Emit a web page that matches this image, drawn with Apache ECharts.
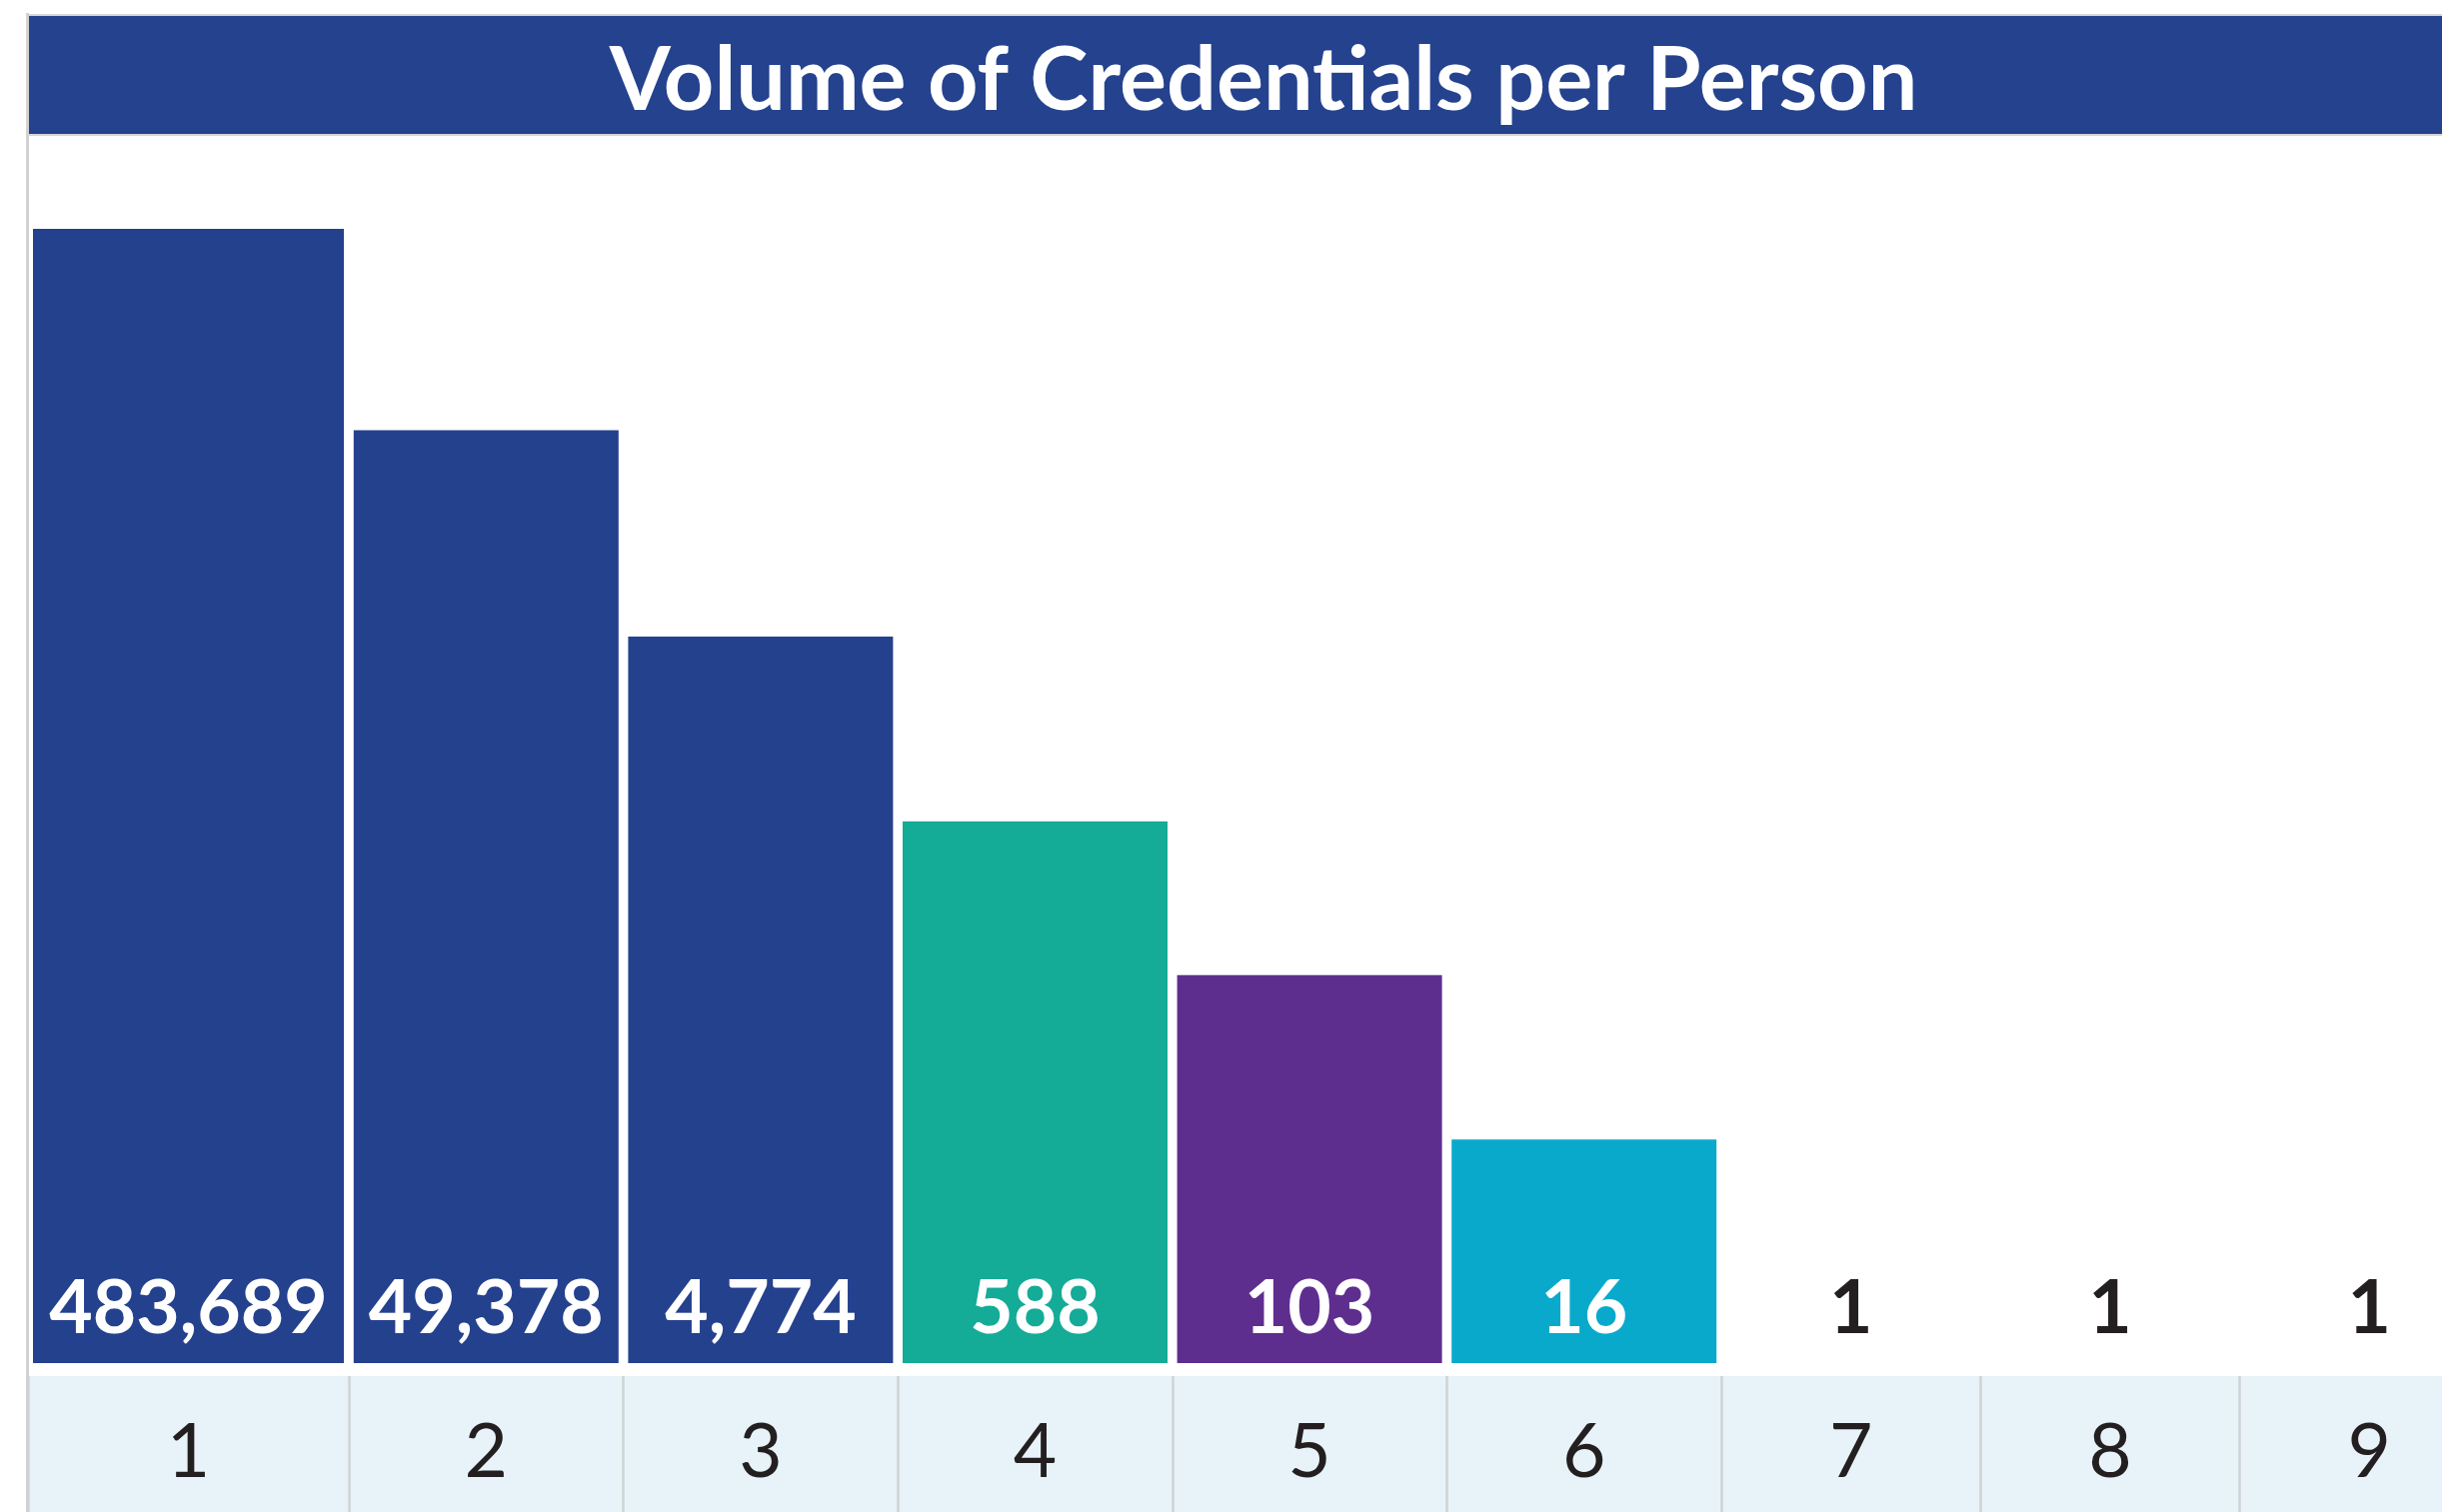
<!DOCTYPE html>
<html><head><meta charset="utf-8">
<script src="https://cdn.jsdelivr.net/npm/echarts@6/dist/echarts.min.js"></script>
<style>html,body{margin:0;padding:0;background:#fff}#c{width:2443px;height:1513px}</style>
</head><body><div id="c"></div>
<script>
const chartTitle = 'Volume of Credentials per Person';
const categories = ['1', '2', '3', '4', '5', '6', '7', '8', '9'];
const values = [483689, 49378, 4774, 588, 103, 16, 1, 1, 1];

// styles
const barColors = ['#24418E', '#24418E', '#24418E', '#14AB97', '#5E2E8F', '#09A9CC', '#24418E', '#24418E', '#24418E'];
const labelColors = ['#FFFFFF', '#FFFFFF', '#FFFFFF', '#FFFFFF', '#FFFFFF', '#FFFFFF', '#231F20', '#231F20', '#231F20'];

// table column groups (layout only)
const groups = [
  { from: 0, to: 1, left: 28, width: 321, barWidth: 311 },
  { from: 1, to: 6, left: 349, width: 1373, barWidth: 265 },
  { from: 6, to: 9, left: 1722, width: 778, barWidth: 259 }
];

const FONT = 'Lato, "Open Sans", sans-serif';
const yMin = 1.27;
const yMax = Math.max(...values);

const grid = [], xAxis = [], yAxis = [], series = [];
groups.forEach((g, gi) => {
  const cats = categories.slice(g.from, g.to);
  const vals = values.slice(g.from, g.to);
  grid.push({ left: g.left, width: g.width, top: 229, height: 1135, containLabel: false, outerBoundsMode: 'none' });
  xAxis.push({
    type: 'category', gridIndex: gi, data: cats, position: 'bottom', offset: 13,
    axisLine: { show: false },
    axisTick: { show: true, length: 140, interval: 0, alignWithLabel: false, lineStyle: { color: '#CFD3D5', width: 2.5 } },
    axisLabel: { interval: 0, margin: 77, verticalAlign: 'middle', fontFamily: FONT, fontSize: 75, color: '#231F20', lineHeight: 75 },
    splitLine: { show: false }
  });
  yAxis.push({
    type: 'log', logBase: 10, gridIndex: gi, min: yMin, max: yMax,
    show: false, splitLine: { show: false }
  });
  series.push({
    type: 'bar', xAxisIndex: gi, yAxisIndex: gi, barWidth: g.barWidth, barGap: '-100%', clip: true,
    silent: true, z: 2,
    data: vals.map((v, i) => ({ value: v, itemStyle: { color: barColors[g.from + i] } })),
    label: { show: false }
  });
  series.push({
    type: 'bar', xAxisIndex: gi, yAxisIndex: gi, barWidth: g.barWidth, barGap: '-100%', clip: false,
    silent: true, z: 3,
    itemStyle: { color: 'rgba(0,0,0,0)' },
    data: vals.map((v, i) => ({ value: v, label: { color: labelColors[g.from + i] } })),
    label: {
      show: true, position: 'insideBottom', distance: 38,
      fontFamily: FONT, fontWeight: 'bold', fontSize: 75, lineHeight: 75,
      formatter: p => Number(p.value).toLocaleString('en-US')
    }
  });
});

const chart = echarts.init(document.getElementById('c'), null, { renderer: 'canvas' });
chart.setOption({
  backgroundColor: '#FFFFFF',
  animation: false,
  title: {
    text: chartTitle, left: 1264, top: 82, padding: 0,
    textAlign: 'center', textVerticalAlign: 'middle',
    textStyle: { color: '#FFFFFF', fontFamily: FONT, fontWeight: 'bold', fontSize: 88 }
  },
  graphic: [
    { type: 'rect', z: -10, shape: { x: 28, y: 16, width: 2500, height: 119 }, style: { fill: '#24428D' } },
    { type: 'rect', z: -10, shape: { x: 28, y: 1377, width: 2500, height: 140 }, style: { fill: '#E7F3F8' } },
    { type: 'line', z: -5, shape: { x1: 28, y1: 15, x2: 2443, y2: 15 }, style: { stroke: '#D6D6D6', lineWidth: 2 } },
    { type: 'line', z: -5, shape: { x1: 28, y1: 135, x2: 2443, y2: 135 }, style: { stroke: '#D6D6D6', lineWidth: 2 } },
    { type: 'line', z: -5, shape: { x1: 27.5, y1: 13, x2: 27.5, y2: 1513 }, style: { stroke: '#D2D2D2', lineWidth: 3 } }
  ],
  grid, xAxis, yAxis, series
});
</script></body></html>
